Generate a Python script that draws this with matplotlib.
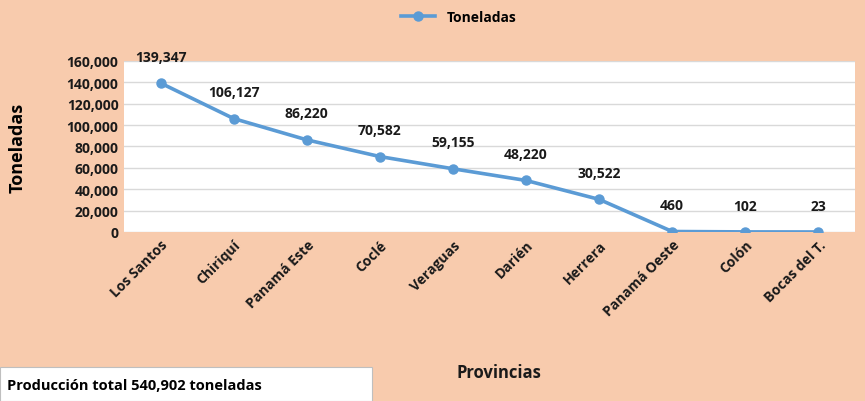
import matplotlib.pyplot as plt
from matplotlib.ticker import FuncFormatter

provincias = ['Los Santos', 'Chiriquí', 'Panamá Este', 'Coclé', 'Veraguas',
              'Darién', 'Herrera', 'Panamá Oeste', 'Colón', 'Bocas del T.']
toneladas = [139347, 106127, 86220, 70582, 59155, 48220, 30522, 460, 102, 23]
total_txt = 'Producción total 540,902 toneladas'

plt.rcParams['font.family'] = ['Open Sans', 'DejaVu Sans']
bg = '#F8CBAD'
azul = '#5B9BD5'

fig = plt.figure(figsize=(8.65, 4.02), dpi=100, facecolor=bg)
ax = fig.add_axes([0.1434, 0.4204, 0.845, 0.4254])
ax.set_facecolor('white')

x = list(range(len(provincias)))
ax.plot(x, toneladas, color=azul, lw=2.6, marker='o', ms=6.5, label='Toneladas')

for xi, v in zip(x, toneladas):
    ax.annotate(f'{v:,}', (xi, v), xytext=(0, 19), textcoords='offset points',
                ha='center', va='center', fontsize=10, fontweight='bold', color='#1a1a1a')

ax.set_xlim(-0.5, len(provincias) - 0.5)
ax.set_ylim(0, 160000)
ax.set_yticks(range(0, 160001, 20000))
ax.yaxis.set_major_formatter(FuncFormatter(lambda v, p: f'{int(v):,}'))
ax.grid(axis='y', color='#d9d9d9', lw=1)
ax.set_axisbelow(True)
ax.tick_params(length=0, labelsize=10, pad=4)
for s in ax.spines.values():
    s.set_visible(False)

ax.set_xticks(x)
ax.set_xticklabels(provincias, rotation=45, ha='right', rotation_mode='anchor')
for lab in ax.get_xticklabels() + ax.get_yticklabels():
    lab.set_fontweight('bold')
    lab.set_color('#1a1a1a')

ax.set_ylabel('Toneladas', fontsize=13, fontweight='bold')
ax.yaxis.set_label_coords(-0.133, 0.5)
fig.text(0.577, 0.072, 'Provincias', ha='center', va='center',
         fontsize=12, fontweight='bold', color='#1a1a1a')

leg = fig.legend(loc='center', bbox_to_anchor=(0.53, 0.955), frameon=False,
                 fontsize=10, handlelength=2.5)
for t in leg.get_texts():
    t.set_fontweight('bold')

fig.patches.append(plt.Rectangle((0, 0), 0.43, 0.085, transform=fig.transFigure,
                                 facecolor='white', edgecolor='#bfbfbf', lw=0.8))
fig.text(0.008, 0.04, total_txt, ha='left', va='center', fontsize=10.5,
         fontweight='bold', color='black')

fig.savefig('out.png', dpi=100, facecolor=bg)
